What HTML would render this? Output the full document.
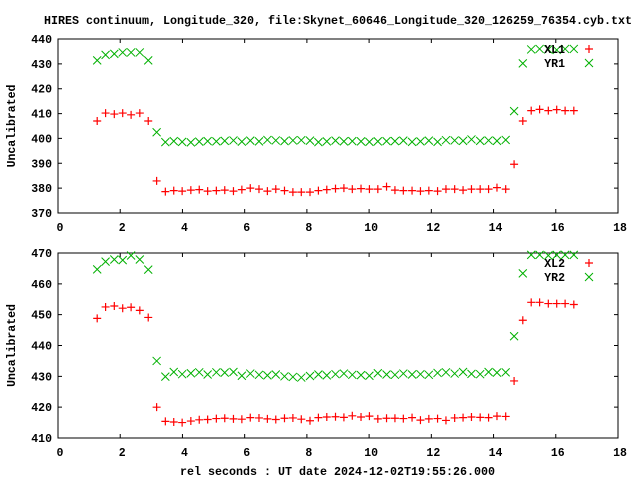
<!DOCTYPE html>
<html><head><meta charset="utf-8"><style>
html,body{margin:0;padding:0;background:#fff}
svg{display:block}
text{font-family:"Liberation Mono","DejaVu Sans Mono",monospace;font-weight:bold;font-size:11.5px;fill:#000}
</style></head><body>
<svg id="chart" width="640" height="480" xmlns="http://www.w3.org/2000/svg">
<text x="44" y="24" textLength="588" lengthAdjust="spacingAndGlyphs">HIRES continuum, Longitude_320, file:Skynet_60646_Longitude_320_126259_76354.cyb.txt</text>
<text x="180" y="475" textLength="315" lengthAdjust="spacingAndGlyphs">rel seconds : UT date 2024-12-02T19:55:26.000</text>
<g id="p1"></g>
<g id="p2"></g>
</svg>
<script>
const times = [1.26,1.53,1.81,2.08,2.35,2.63,2.90,3.17,3.45,3.72,3.99,4.27,4.54,4.81,5.09,5.36,5.64,5.91,6.18,6.46,6.73,7.00,7.28,7.55,7.82,8.10,8.37,8.64,8.92,9.19,9.46,9.74,10.01,10.28,10.56,10.83,11.10,11.38,11.65,11.92,12.20,12.47,12.75,13.02,13.29,13.57,13.84,14.11,14.39,14.66,14.94,15.21,15.48,15.76,16.03,16.30,16.58];
const xl1 = [407.0,410.2,409.8,410.2,409.5,410.2,407.0,382.9,378.6,379.0,378.8,379.2,379.4,378.8,379.0,379.2,378.8,379.4,380.0,379.6,378.8,379.6,379.0,378.4,378.4,378.4,379.0,379.4,379.8,380.0,379.6,379.8,379.6,379.6,380.6,379.2,379.0,379.0,378.8,379.0,378.8,379.6,379.6,379.2,379.6,379.6,379.6,380.2,379.6,389.6,407.0,411.2,411.7,411.2,411.6,411.2,411.2];
const yr1 = [431.4,433.6,434.0,434.6,434.6,434.6,431.4,402.5,398.5,398.9,398.6,398.4,398.7,398.9,398.8,399.0,399.2,398.7,399.1,398.8,399.4,399.2,398.9,399.2,399.3,399.1,398.5,398.8,399.1,398.8,398.9,398.8,398.6,398.8,398.9,398.9,399.1,398.6,398.8,399.1,398.6,399.3,399.2,399.0,399.6,399.0,399.2,399.0,399.4,411.0,430.2,435.8,436.0,435.8,435.6,436.0,436.0];
const xl2 = [448.8,452.5,452.8,452.1,452.4,451.4,449.1,420.0,415.4,415.2,415.0,415.5,415.9,416.0,416.3,416.4,416.2,416.1,416.6,416.5,416.2,416.0,416.4,416.5,416.1,415.6,416.6,416.8,416.9,416.7,417.2,416.8,417.1,416.2,416.4,416.4,416.3,416.6,415.8,416.2,416.3,415.7,416.5,416.6,416.8,416.7,416.6,417.1,417.0,428.5,448.2,454.0,454.0,453.6,453.6,453.6,453.3];
const yr2 = [464.7,467.2,467.9,467.7,469.2,467.9,464.6,435.0,429.9,431.4,430.7,431.0,431.3,430.6,431.3,431.2,431.4,430.2,430.9,430.5,430.3,430.6,430.0,429.8,429.6,430.1,430.6,430.3,430.7,430.9,430.5,430.4,430.2,431.0,430.6,430.5,430.9,430.6,430.7,430.5,431.1,431.3,430.9,431.4,430.8,430.7,431.4,431.2,431.3,443.0,463.4,469.4,469.4,469.2,469.4,469.4,469.4];
const xTicks = [0,2,4,6,8,10,12,14,16,18];
const yTicks1 = [370,380,390,400,410,420,430,440];
const yTicks2 = [410,420,430,440,450,460,470];
const legend1 = ["XL1","YR1"];
const legend2 = ["XL2","YR2"];

const NS="http://www.w3.org/2000/svg";
function mk(parent,tag,attrs){const e=document.createElementNS(NS,tag);for(const k in attrs)e.setAttribute(k,attrs[k]);parent.appendChild(e);return e;}
const X0=58,X1=618;
function xs(v){return X0+(v-0)/(18-0)*(X1-X0);}
function plus(g,x,y,name){const p=mk(g,'path',{d:`M${x-4},${y}h8M${x},${y-4}v8`,stroke:'#ff0000','stroke-width':1.2,fill:'none'});

}
function cross(g,x,y,name){const p=mk(g,'path',{d:`M${x-4},${y-4}l8,8M${x-4},${y+4}l8,-8`,stroke:'#00b000','stroke-width':1,fill:'none'});

}
function panel(g,top,bot,ymin,ymax,yTicks,sa,sb,leg,legY){
  const ys=v=>bot-(v-ymin)/(ymax-ymin)*(bot-top);
  const fr=mk(g,'rect',{x:X0,y:top,width:X1-X0,height:bot-top,fill:'none',stroke:'#000','stroke-width':1});
  
  
  xTicks.forEach(t=>{const x=xs(t);
    mk(g,'path',{d:`M${x},${bot}v-4M${x},${top}v4`,stroke:'#000','stroke-width':1});
    const tx=mk(g,'text',{x:x+2,y:bot+18,'text-anchor':'middle'});tx.textContent=t;
    
    });
  yTicks.forEach(t=>{const y=ys(t);
    mk(g,'path',{d:`M${X0},${y}h4M${X1},${y}h-4`,stroke:'#000','stroke-width':1});
    const tx=mk(g,'text',{x:52,y:y+4,'text-anchor':'end'});tx.textContent=t;
    
    });
  const yl=mk(g,'text',{x:0,y:0,transform:`translate(15,${(top+bot)/2}) rotate(-90)`,'text-anchor':'middle'});
  yl.textContent='Uncalibrated';
  
  
  times.forEach((t,i)=>{cross(g,xs(t),ys(sb[i]),'point-'+leg[1].toLowerCase());});
  times.forEach((t,i)=>{plus(g,xs(t),ys(sa[i]),'point-'+leg[0].toLowerCase());});
  leg.forEach((l,i)=>{const y=legY+i*14;
    const tx=mk(g,'text',{x:565,y:y+4,'text-anchor':'end'});tx.textContent=l;
    
    
    if(i===0)plus(g,589,y,'legend-sample');else cross(g,589,y,'legend-sample');});
}
panel(document.getElementById('p1'),39,213,370,440,yTicks1,xl1,yr1,legend1,49);
panel(document.getElementById('p2'),253,438,410,470,yTicks2,xl2,yr2,legend2,263);
</script>
</body></html>
